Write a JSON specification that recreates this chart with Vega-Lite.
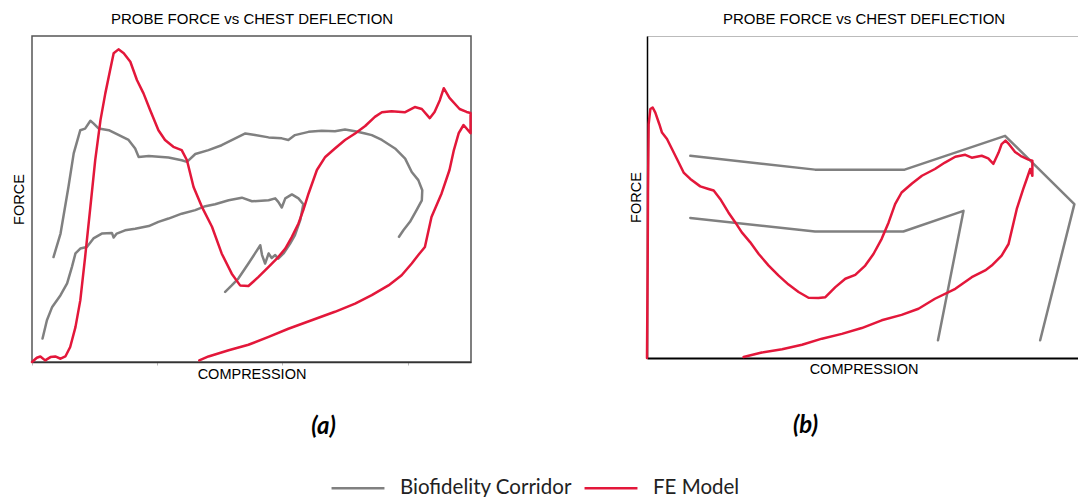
{
"$schema": "https://vega.github.io/schema/vega-lite/v6.json",
"padding": {"left": 10, "top": 10, "right": 0, "bottom": 0},
"background": "white",
"datasets": {
"a": [
{"c":"g1","s":"Biofidelity Corridor","i":1,"x":4.9,"y":32.2},
{"c":"g1","s":"Biofidelity Corridor","i":2,"x":6.5,"y":39.4},
{"c":"g1","s":"Biofidelity Corridor","i":3,"x":8.3,"y":53.7},
{"c":"g1","s":"Biofidelity Corridor","i":4,"x":9.5,"y":64.0},
{"c":"g1","s":"Biofidelity Corridor","i":5,"x":11.0,"y":71.1},
{"c":"g1","s":"Biofidelity Corridor","i":6,"x":12.1,"y":71.6},
{"c":"g1","s":"Biofidelity Corridor","i":7,"x":13.3,"y":74.0},
{"c":"g1","s":"Biofidelity Corridor","i":8,"x":14.0,"y":73.2},
{"c":"g1","s":"Biofidelity Corridor","i":9,"x":15.2,"y":71.6},
{"c":"g1","s":"Biofidelity Corridor","i":10,"x":17.5,"y":71.1},
{"c":"g1","s":"Biofidelity Corridor","i":11,"x":19.0,"y":70.1},
{"c":"g1","s":"Biofidelity Corridor","i":12,"x":22.0,"y":68.1},
{"c":"g1","s":"Biofidelity Corridor","i":13,"x":23.5,"y":65.5},
{"c":"g1","s":"Biofidelity Corridor","i":14,"x":24.3,"y":62.9},
{"c":"g1","s":"Biofidelity Corridor","i":15,"x":26.6,"y":63.2},
{"c":"g1","s":"Biofidelity Corridor","i":16,"x":31.1,"y":62.7},
{"c":"g1","s":"Biofidelity Corridor","i":17,"x":34.1,"y":61.9},
{"c":"g1","s":"Biofidelity Corridor","i":18,"x":35.3,"y":61.4},
{"c":"g1","s":"Biofidelity Corridor","i":19,"x":37.2,"y":63.8},
{"c":"g1","s":"Biofidelity Corridor","i":20,"x":40.2,"y":65.0},
{"c":"g1","s":"Biofidelity Corridor","i":21,"x":43.2,"y":66.5},
{"c":"g1","s":"Biofidelity Corridor","i":22,"x":46.3,"y":68.6},
{"c":"g1","s":"Biofidelity Corridor","i":23,"x":48.6,"y":70.1},
{"c":"g1","s":"Biofidelity Corridor","i":24,"x":50.8,"y":69.6},
{"c":"g1","s":"Biofidelity Corridor","i":25,"x":53.9,"y":68.9},
{"c":"g1","s":"Biofidelity Corridor","i":26,"x":56.9,"y":68.6},
{"c":"g1","s":"Biofidelity Corridor","i":27,"x":58.4,"y":68.1},
{"c":"g1","s":"Biofidelity Corridor","i":28,"x":59.9,"y":69.6},
{"c":"g1","s":"Biofidelity Corridor","i":29,"x":63.0,"y":70.6},
{"c":"g1","s":"Biofidelity Corridor","i":30,"x":66.0,"y":70.9},
{"c":"g1","s":"Biofidelity Corridor","i":31,"x":69.0,"y":70.8},
{"c":"g1","s":"Biofidelity Corridor","i":32,"x":71.3,"y":71.3},
{"c":"g1","s":"Biofidelity Corridor","i":33,"x":73.6,"y":70.8},
{"c":"g1","s":"Biofidelity Corridor","i":34,"x":75.9,"y":70.1},
{"c":"g1","s":"Biofidelity Corridor","i":35,"x":77.4,"y":69.6},
{"c":"g1","s":"Biofidelity Corridor","i":36,"x":79.7,"y":68.1},
{"c":"g1","s":"Biofidelity Corridor","i":37,"x":82.7,"y":65.5},
{"c":"g1","s":"Biofidelity Corridor","i":38,"x":85.0,"y":62.4},
{"c":"g1","s":"Biofidelity Corridor","i":39,"x":86.5,"y":58.3},
{"c":"g1","s":"Biofidelity Corridor","i":40,"x":88.0,"y":55.8},
{"c":"g1","s":"Biofidelity Corridor","i":41,"x":88.9,"y":52.7},
{"c":"g1","s":"Biofidelity Corridor","i":42,"x":88.8,"y":49.6},
{"c":"g1","s":"Biofidelity Corridor","i":43,"x":87.6,"y":46.6},
{"c":"g1","s":"Biofidelity Corridor","i":44,"x":86.1,"y":43.0},
{"c":"g1","s":"Biofidelity Corridor","i":45,"x":84.6,"y":40.4},
{"c":"g1","s":"Biofidelity Corridor","i":46,"x":83.6,"y":38.4},
{"c":"g2","s":"Biofidelity Corridor","i":1,"x":2.4,"y":7.2},
{"c":"g2","s":"Biofidelity Corridor","i":2,"x":3.4,"y":12.8},
{"c":"g2","s":"Biofidelity Corridor","i":3,"x":4.6,"y":16.9},
{"c":"g2","s":"Biofidelity Corridor","i":4,"x":6.5,"y":20.5},
{"c":"g2","s":"Biofidelity Corridor","i":5,"x":8.0,"y":24.1},
{"c":"g2","s":"Biofidelity Corridor","i":6,"x":9.1,"y":29.2},
{"c":"g2","s":"Biofidelity Corridor","i":7,"x":9.9,"y":33.3},
{"c":"g2","s":"Biofidelity Corridor","i":8,"x":11.0,"y":34.8},
{"c":"g2","s":"Biofidelity Corridor","i":9,"x":12.5,"y":35.3},
{"c":"g2","s":"Biofidelity Corridor","i":10,"x":14.0,"y":37.9},
{"c":"g2","s":"Biofidelity Corridor","i":11,"x":15.9,"y":39.4},
{"c":"g2","s":"Biofidelity Corridor","i":12,"x":18.2,"y":39.6},
{"c":"g2","s":"Biofidelity Corridor","i":13,"x":18.6,"y":38.2},
{"c":"g2","s":"Biofidelity Corridor","i":14,"x":19.3,"y":39.4},
{"c":"g2","s":"Biofidelity Corridor","i":15,"x":21.2,"y":40.4},
{"c":"g2","s":"Biofidelity Corridor","i":16,"x":23.5,"y":40.9},
{"c":"g2","s":"Biofidelity Corridor","i":17,"x":26.6,"y":41.7},
{"c":"g2","s":"Biofidelity Corridor","i":18,"x":28.8,"y":43.0},
{"c":"g2","s":"Biofidelity Corridor","i":19,"x":31.1,"y":44.0},
{"c":"g2","s":"Biofidelity Corridor","i":20,"x":34.1,"y":45.5},
{"c":"g2","s":"Biofidelity Corridor","i":21,"x":37.2,"y":46.6},
{"c":"g2","s":"Biofidelity Corridor","i":22,"x":39.5,"y":47.8},
{"c":"g2","s":"Biofidelity Corridor","i":23,"x":41.7,"y":48.4},
{"c":"g2","s":"Biofidelity Corridor","i":24,"x":44.8,"y":49.6},
{"c":"g2","s":"Biofidelity Corridor","i":25,"x":47.8,"y":50.4},
{"c":"g2","s":"Biofidelity Corridor","i":26,"x":50.1,"y":49.3},
{"c":"g2","s":"Biofidelity Corridor","i":27,"x":53.9,"y":49.6},
{"c":"g2","s":"Biofidelity Corridor","i":28,"x":55.4,"y":50.2},
{"c":"g2","s":"Biofidelity Corridor","i":29,"x":56.1,"y":49.1},
{"c":"g2","s":"Biofidelity Corridor","i":30,"x":56.9,"y":47.4},
{"c":"g2","s":"Biofidelity Corridor","i":31,"x":57.7,"y":50.2},
{"c":"g2","s":"Biofidelity Corridor","i":32,"x":59.2,"y":51.4},
{"c":"g2","s":"Biofidelity Corridor","i":33,"x":60.7,"y":50.2},
{"c":"g2","s":"Biofidelity Corridor","i":34,"x":61.8,"y":48.4},
{"c":"g2","s":"Biofidelity Corridor","i":35,"x":61.1,"y":43.5},
{"c":"g2","s":"Biofidelity Corridor","i":36,"x":59.9,"y":38.9},
{"c":"g2","s":"Biofidelity Corridor","i":37,"x":58.8,"y":36.3},
{"c":"g2","s":"Biofidelity Corridor","i":38,"x":57.3,"y":33.3},
{"c":"g2","s":"Biofidelity Corridor","i":39,"x":56.1,"y":31.7},
{"c":"g2","s":"Biofidelity Corridor","i":40,"x":55.4,"y":32.8},
{"c":"g2","s":"Biofidelity Corridor","i":41,"x":54.6,"y":31.9},
{"c":"g2","s":"Biofidelity Corridor","i":42,"x":53.9,"y":33.3},
{"c":"g2","s":"Biofidelity Corridor","i":43,"x":53.1,"y":30.2},
{"c":"g2","s":"Biofidelity Corridor","i":44,"x":52.4,"y":32.8},
{"c":"g2","s":"Biofidelity Corridor","i":45,"x":52.0,"y":35.8},
{"c":"g2","s":"Biofidelity Corridor","i":46,"x":50.8,"y":33.3},
{"c":"g2","s":"Biofidelity Corridor","i":47,"x":49.3,"y":30.2},
{"c":"g2","s":"Biofidelity Corridor","i":48,"x":47.0,"y":25.6},
{"c":"g2","s":"Biofidelity Corridor","i":49,"x":45.5,"y":23.5},
{"c":"g2","s":"Biofidelity Corridor","i":50,"x":44.0,"y":21.5},
{"c":"r","s":"FE Model","i":1,"x":0.0,"y":0.0},
{"c":"r","s":"FE Model","i":2,"x":1.1,"y":1.3},
{"c":"r","s":"FE Model","i":3,"x":1.9,"y":1.7},
{"c":"r","s":"FE Model","i":4,"x":3.0,"y":0.5},
{"c":"r","s":"FE Model","i":5,"x":4.2,"y":1.5},
{"c":"r","s":"FE Model","i":6,"x":5.3,"y":1.7},
{"c":"r","s":"FE Model","i":7,"x":6.5,"y":1.0},
{"c":"r","s":"FE Model","i":8,"x":7.6,"y":1.7},
{"c":"r","s":"FE Model","i":9,"x":8.7,"y":4.6},
{"c":"r","s":"FE Model","i":10,"x":9.9,"y":10.7},
{"c":"r","s":"FE Model","i":11,"x":11.0,"y":18.9},
{"c":"r","s":"FE Model","i":12,"x":12.1,"y":32.2},
{"c":"r","s":"FE Model","i":13,"x":13.3,"y":47.6},
{"c":"r","s":"FE Model","i":14,"x":14.4,"y":61.9},
{"c":"r","s":"FE Model","i":15,"x":15.6,"y":74.2},
{"c":"r","s":"FE Model","i":16,"x":16.7,"y":82.4},
{"c":"r","s":"FE Model","i":17,"x":17.8,"y":89.6},
{"c":"r","s":"FE Model","i":18,"x":18.6,"y":94.7},
{"c":"r","s":"FE Model","i":19,"x":19.7,"y":95.9},
{"c":"r","s":"FE Model","i":20,"x":20.9,"y":94.7},
{"c":"r","s":"FE Model","i":21,"x":22.4,"y":92.1},
{"c":"r","s":"FE Model","i":22,"x":23.9,"y":86.5},
{"c":"r","s":"FE Model","i":23,"x":25.4,"y":82.4},
{"c":"r","s":"FE Model","i":24,"x":26.9,"y":77.3},
{"c":"r","s":"FE Model","i":25,"x":28.8,"y":71.1},
{"c":"r","s":"FE Model","i":26,"x":30.3,"y":68.1},
{"c":"r","s":"FE Model","i":27,"x":32.2,"y":66.0},
{"c":"r","s":"FE Model","i":28,"x":34.1,"y":65.0},
{"c":"r","s":"FE Model","i":29,"x":35.3,"y":61.9},
{"c":"r","s":"FE Model","i":30,"x":36.8,"y":53.7},
{"c":"r","s":"FE Model","i":31,"x":38.7,"y":47.6},
{"c":"r","s":"FE Model","i":32,"x":41.0,"y":41.5},
{"c":"r","s":"FE Model","i":33,"x":43.2,"y":33.3},
{"c":"r","s":"FE Model","i":34,"x":45.5,"y":27.1},
{"c":"r","s":"FE Model","i":35,"x":47.4,"y":23.5},
{"c":"r","s":"FE Model","i":36,"x":49.3,"y":23.3},
{"c":"r","s":"FE Model","i":37,"x":51.6,"y":26.1},
{"c":"r","s":"FE Model","i":38,"x":53.9,"y":29.2},
{"c":"r","s":"FE Model","i":39,"x":56.1,"y":32.2},
{"c":"r","s":"FE Model","i":40,"x":57.7,"y":34.8},
{"c":"r","s":"FE Model","i":41,"x":59.2,"y":38.4},
{"c":"r","s":"FE Model","i":42,"x":60.7,"y":42.5},
{"c":"r","s":"FE Model","i":43,"x":61.8,"y":46.6},
{"c":"r","s":"FE Model","i":44,"x":63.0,"y":51.7},
{"c":"r","s":"FE Model","i":45,"x":64.9,"y":58.9},
{"c":"r","s":"FE Model","i":46,"x":66.8,"y":62.9},
{"c":"r","s":"FE Model","i":47,"x":69.0,"y":65.5},
{"c":"r","s":"FE Model","i":48,"x":71.3,"y":68.1},
{"c":"r","s":"FE Model","i":49,"x":73.6,"y":70.1},
{"c":"r","s":"FE Model","i":50,"x":75.9,"y":72.4},
{"c":"r","s":"FE Model","i":51,"x":78.1,"y":75.2},
{"c":"r","s":"FE Model","i":52,"x":79.7,"y":76.6},
{"c":"r","s":"FE Model","i":53,"x":81.9,"y":76.9},
{"c":"r","s":"FE Model","i":54,"x":84.9,"y":76.6},
{"c":"r","s":"FE Model","i":55,"x":87.2,"y":78.2},
{"c":"r","s":"FE Model","i":56,"x":88.8,"y":77.6},
{"c":"r","s":"FE Model","i":57,"x":90.6,"y":74.8},
{"c":"r","s":"FE Model","i":58,"x":91.7,"y":76.7},
{"c":"r","s":"FE Model","i":59,"x":92.9,"y":80.3},
{"c":"r","s":"FE Model","i":60,"x":93.8,"y":84.0},
{"c":"r","s":"FE Model","i":61,"x":95.1,"y":81.0},
{"c":"r","s":"FE Model","i":62,"x":97.4,"y":77.6},
{"c":"r","s":"FE Model","i":63,"x":99.0,"y":76.7},
{"c":"r","s":"FE Model","i":64,"x":99.9,"y":76.4},
{"c":"r","s":"FE Model","i":65,"x":99.9,"y":70.2},
{"c":"r","s":"FE Model","i":66,"x":98.3,"y":72.7},
{"c":"r","s":"FE Model","i":67,"x":97.2,"y":70.2},
{"c":"r","s":"FE Model","i":68,"x":96.1,"y":65.0},
{"c":"r","s":"FE Model","i":69,"x":95.1,"y":58.9},
{"c":"r","s":"FE Model","i":70,"x":93.3,"y":51.7},
{"c":"r","s":"FE Model","i":71,"x":91.0,"y":44.5},
{"c":"r","s":"FE Model","i":72,"x":89.5,"y":35.3},
{"c":"r","s":"FE Model","i":73,"x":88.0,"y":32.8},
{"c":"r","s":"FE Model","i":74,"x":86.5,"y":30.2},
{"c":"r","s":"FE Model","i":75,"x":84.2,"y":26.6},
{"c":"r","s":"FE Model","i":76,"x":81.2,"y":23.5},
{"c":"r","s":"FE Model","i":77,"x":77.4,"y":20.5},
{"c":"r","s":"FE Model","i":78,"x":73.6,"y":17.9},
{"c":"r","s":"FE Model","i":79,"x":69.0,"y":15.4},
{"c":"r","s":"FE Model","i":80,"x":63.7,"y":12.8},
{"c":"r","s":"FE Model","i":81,"x":58.4,"y":10.2},
{"c":"r","s":"FE Model","i":82,"x":53.9,"y":7.7},
{"c":"r","s":"FE Model","i":83,"x":49.3,"y":5.3},
{"c":"r","s":"FE Model","i":84,"x":44.8,"y":3.6},
{"c":"r","s":"FE Model","i":85,"x":40.2,"y":1.7},
{"c":"r","s":"FE Model","i":86,"x":38.1,"y":0.5}
],
"b": [
{"c":"g1","s":"Biofidelity Corridor","i":1,"x":10.0,"y":62.8},
{"c":"g1","s":"Biofidelity Corridor","i":2,"x":38.8,"y":58.5},
{"c":"g1","s":"Biofidelity Corridor","i":3,"x":59.5,"y":58.5},
{"c":"g1","s":"Biofidelity Corridor","i":4,"x":82.7,"y":69.0},
{"c":"g1","s":"Biofidelity Corridor","i":5,"x":98.7,"y":47.8},
{"c":"g1","s":"Biofidelity Corridor","i":6,"x":90.8,"y":5.5},
{"c":"g2","s":"Biofidelity Corridor","i":1,"x":10.0,"y":43.5},
{"c":"g2","s":"Biofidelity Corridor","i":2,"x":38.8,"y":39.3},
{"c":"g2","s":"Biofidelity Corridor","i":3,"x":59.2,"y":39.3},
{"c":"g2","s":"Biofidelity Corridor","i":4,"x":73.1,"y":45.7},
{"c":"g2","s":"Biofidelity Corridor","i":5,"x":67.2,"y":5.5},
{"c":"r","s":"FE Model","i":1,"x":0.0,"y":0.0},
{"c":"r","s":"FE Model","i":2,"x":0.15,"y":28.7},
{"c":"r","s":"FE Model","i":3,"x":0.23,"y":51.4},
{"c":"r","s":"FE Model","i":4,"x":0.38,"y":72.6},
{"c":"r","s":"FE Model","i":5,"x":0.77,"y":77.3},
{"c":"r","s":"FE Model","i":6,"x":1.31,"y":77.8},
{"c":"r","s":"FE Model","i":7,"x":1.92,"y":76.2},
{"c":"r","s":"FE Model","i":8,"x":2.85,"y":72.6},
{"c":"r","s":"FE Model","i":9,"x":3.46,"y":70.0},
{"c":"r","s":"FE Model","i":10,"x":4.62,"y":68.0},
{"c":"r","s":"FE Model","i":11,"x":5.77,"y":64.9},
{"c":"r","s":"FE Model","i":12,"x":6.92,"y":61.8},
{"c":"r","s":"FE Model","i":13,"x":8.46,"y":57.6},
{"c":"r","s":"FE Model","i":14,"x":10.0,"y":55.6},
{"c":"r","s":"FE Model","i":15,"x":12.3,"y":53.3},
{"c":"r","s":"FE Model","i":16,"x":14.2,"y":52.5},
{"c":"r","s":"FE Model","i":17,"x":15.4,"y":52.0},
{"c":"r","s":"FE Model","i":18,"x":16.9,"y":49.4},
{"c":"r","s":"FE Model","i":19,"x":18.8,"y":45.2},
{"c":"r","s":"FE Model","i":20,"x":20.4,"y":42.1},
{"c":"r","s":"FE Model","i":21,"x":21.9,"y":39.0},
{"c":"r","s":"FE Model","i":22,"x":23.8,"y":36.0},
{"c":"r","s":"FE Model","i":23,"x":25.8,"y":32.3},
{"c":"r","s":"FE Model","i":24,"x":28.1,"y":28.7},
{"c":"r","s":"FE Model","i":25,"x":30.4,"y":25.6},
{"c":"r","s":"FE Model","i":26,"x":32.7,"y":22.8},
{"c":"r","s":"FE Model","i":27,"x":35.0,"y":20.5},
{"c":"r","s":"FE Model","i":28,"x":37.3,"y":18.7},
{"c":"r","s":"FE Model","i":29,"x":39.6,"y":18.6},
{"c":"r","s":"FE Model","i":30,"x":41.2,"y":18.9},
{"c":"r","s":"FE Model","i":31,"x":43.5,"y":22.0},
{"c":"r","s":"FE Model","i":32,"x":45.8,"y":24.6},
{"c":"r","s":"FE Model","i":33,"x":48.1,"y":25.8},
{"c":"r","s":"FE Model","i":34,"x":50.4,"y":28.7},
{"c":"r","s":"FE Model","i":35,"x":52.3,"y":32.3},
{"c":"r","s":"FE Model","i":36,"x":54.2,"y":37.0},
{"c":"r","s":"FE Model","i":37,"x":55.8,"y":42.1},
{"c":"r","s":"FE Model","i":38,"x":57.3,"y":47.8},
{"c":"r","s":"FE Model","i":39,"x":58.8,"y":51.4},
{"c":"r","s":"FE Model","i":40,"x":61.2,"y":54.2},
{"c":"r","s":"FE Model","i":41,"x":63.5,"y":56.6},
{"c":"r","s":"FE Model","i":42,"x":66.5,"y":58.7},
{"c":"r","s":"FE Model","i":43,"x":68.8,"y":60.7},
{"c":"r","s":"FE Model","i":44,"x":71.2,"y":62.5},
{"c":"r","s":"FE Model","i":45,"x":73.5,"y":63.1},
{"c":"r","s":"FE Model","i":46,"x":75.0,"y":62.2},
{"c":"r","s":"FE Model","i":47,"x":77.3,"y":62.8},
{"c":"r","s":"FE Model","i":48,"x":78.8,"y":62.0},
{"c":"r","s":"FE Model","i":49,"x":80.0,"y":60.3},
{"c":"r","s":"FE Model","i":50,"x":81.2,"y":63.8},
{"c":"r","s":"FE Model","i":51,"x":81.9,"y":66.4},
{"c":"r","s":"FE Model","i":52,"x":82.8,"y":67.5},
{"c":"r","s":"FE Model","i":53,"x":83.6,"y":66.4},
{"c":"r","s":"FE Model","i":54,"x":85.0,"y":64.0},
{"c":"r","s":"FE Model","i":55,"x":86.5,"y":62.6},
{"c":"r","s":"FE Model","i":56,"x":88.1,"y":61.6},
{"c":"r","s":"FE Model","i":57,"x":89.0,"y":61.3},
{"c":"r","s":"FE Model","i":58,"x":89.0,"y":56.6},
{"c":"r","s":"FE Model","i":59,"x":88.5,"y":58.7},
{"c":"r","s":"FE Model","i":60,"x":87.7,"y":55.6},
{"c":"r","s":"FE Model","i":61,"x":86.9,"y":52.5},
{"c":"r","s":"FE Model","i":62,"x":85.4,"y":46.3},
{"c":"r","s":"FE Model","i":63,"x":83.5,"y":35.4},
{"c":"r","s":"FE Model","i":64,"x":81.9,"y":31.8},
{"c":"r","s":"FE Model","i":65,"x":79.6,"y":28.7},
{"c":"r","s":"FE Model","i":66,"x":78.1,"y":27.2},
{"c":"r","s":"FE Model","i":67,"x":75.0,"y":25.1},
{"c":"r","s":"FE Model","i":68,"x":71.2,"y":21.5},
{"c":"r","s":"FE Model","i":69,"x":66.5,"y":18.4},
{"c":"r","s":"FE Model","i":70,"x":62.7,"y":15.3},
{"c":"r","s":"FE Model","i":71,"x":58.8,"y":13.4},
{"c":"r","s":"FE Model","i":72,"x":54.2,"y":11.7},
{"c":"r","s":"FE Model","i":73,"x":49.6,"y":9.3},
{"c":"r","s":"FE Model","i":74,"x":45.0,"y":7.5},
{"c":"r","s":"FE Model","i":75,"x":40.4,"y":6.0},
{"c":"r","s":"FE Model","i":76,"x":35.8,"y":4.1},
{"c":"r","s":"FE Model","i":77,"x":31.2,"y":2.7},
{"c":"r","s":"FE Model","i":78,"x":26.5,"y":1.7},
{"c":"r","s":"FE Model","i":79,"x":22.3,"y":0.3}
]
},
"spacing": 176,
"bounds": "flush",
"hconcat": [
{
"width": 439, "height": 326,
"data": {"name": "a"},
"view": {"stroke": "#555555", "strokeWidth": 1.5},
"title": {"text": "(a)", "orient": "bottom", "anchor": "middle", "dx": 72, "offset": 34, "font": "Lato", "fontSize": 24, "fontWeight": "bold", "fontStyle": "italic", "color": "#000000"},
"resolve": {"axis": {"x": "independent"}},
"layer": [
{
"mark": {"type": "line", "strokeWidth": 2.5, "strokeJoin": "round", "strokeCap": "round"},
"encoding": {
"x": {"field": "x", "type": "quantitative", "scale": {"domain": [0, 100], "nice": false, "zero": false},
"axis": {"orient": "bottom", "title": "COMPRESSION", "labels": false, "ticks": true, "values": [0, 28.45, 56.9, 85.6], "tickSize": 3, "tickColor": "#bbbbbb", "domain": true, "domainColor": "#333333", "domainWidth": 1.5, "titlePadding": 2}},
"y": {"field": "y", "type": "quantitative", "scale": {"domain": [0, 100], "nice": false},
"axis": {"title": "FORCE", "labels": false, "ticks": false, "domain": false, "titlePadding": 6}},
"color": {"field": "s", "type": "nominal", "scale": {"domain": ["Biofidelity Corridor", "FE Model"], "range": ["#808080", "#e3173a"]},
"legend": {"title": null, "orient": "none", "legendX": 298, "legendY": 424, "direction": "horizontal", "symbolType": "stroke", "symbolSize": 2800, "symbolStrokeWidth": 2.5, "labelFont": "Lato", "labelFontSize": 20.5, "labelColor": "#222222", "labelOffset": 14, "labelLimit": 400, "columnPadding": 7, "padding": 0}},
"detail": {"field": "c"},
"order": {"field": "i", "type": "quantitative"}
}
},
{
"mark": {"type": "rule", "opacity": 0},
"encoding": {
"x": {"field": "x", "type": "quantitative", "scale": {"domain": [0, 100], "nice": false, "zero": false},
"axis": {"orient": "top", "title": "PROBE FORCE vs CHEST DEFLECTION", "labels": false, "ticks": false, "domain": false, "titlePadding": 10, "titleFontSize": 15}}
}
}
]
},
{
"width": 433, "height": 322,
"data": {"name": "b"},
"view": {"stroke": "#bbbbbb", "strokeWidth": 1},
"title": {"text": "(b)", "orient": "bottom", "anchor": "middle", "dx": -58, "offset": 38, "font": "Lato", "fontSize": 24, "fontWeight": "bold", "fontStyle": "italic", "color": "#000000"},
"resolve": {"axis": {"x": "independent"}},
"layer": [
{
"mark": {"type": "line", "strokeWidth": 2.5, "strokeJoin": "round", "strokeCap": "round"},
"encoding": {
"x": {"field": "x", "type": "quantitative", "scale": {"domain": [0, 100], "nice": false, "zero": false},
"axis": {"orient": "bottom", "title": "COMPRESSION", "labels": false, "ticks": false, "domain": true, "domainColor": "#000000", "domainWidth": 2, "titlePadding": 4}},
"y": {"field": "y", "type": "quantitative", "scale": {"domain": [0, 100], "nice": false},
"axis": {"title": "FORCE", "labels": false, "ticks": false, "domain": true, "domainColor": "#000000", "domainWidth": 1.5, "titlePadding": 4}},
"color": {"field": "s", "type": "nominal", "scale": {"domain": ["Biofidelity Corridor", "FE Model"], "range": ["#808080", "#e3173a"]},
"legend": {"title": null, "orient": "none", "legendX": 298, "legendY": 424, "direction": "horizontal", "symbolType": "stroke", "symbolSize": 2800, "symbolStrokeWidth": 2.5, "labelFont": "Lato", "labelFontSize": 20.5, "labelColor": "#222222", "labelOffset": 14, "labelLimit": 400, "columnPadding": 7, "padding": 0}},
"detail": {"field": "c"},
"order": {"field": "i", "type": "quantitative"}
}
},
{
"mark": {"type": "rule", "opacity": 0},
"encoding": {
"x": {"field": "x", "type": "quantitative", "scale": {"domain": [0, 100], "nice": false, "zero": false},
"axis": {"orient": "top", "title": "PROBE FORCE vs CHEST DEFLECTION", "labels": false, "ticks": false, "domain": false, "titlePadding": 10, "titleFontSize": 15}}
}
}
]
}
],
"config": {
"font": "Liberation Sans",
"axis": {"grid": false, "titleFont": "Liberation Sans", "titleFontSize": 14.5, "titleFontWeight": "normal", "titleColor": "#000000"},
"title": {"font": "Lato"}
}
}
